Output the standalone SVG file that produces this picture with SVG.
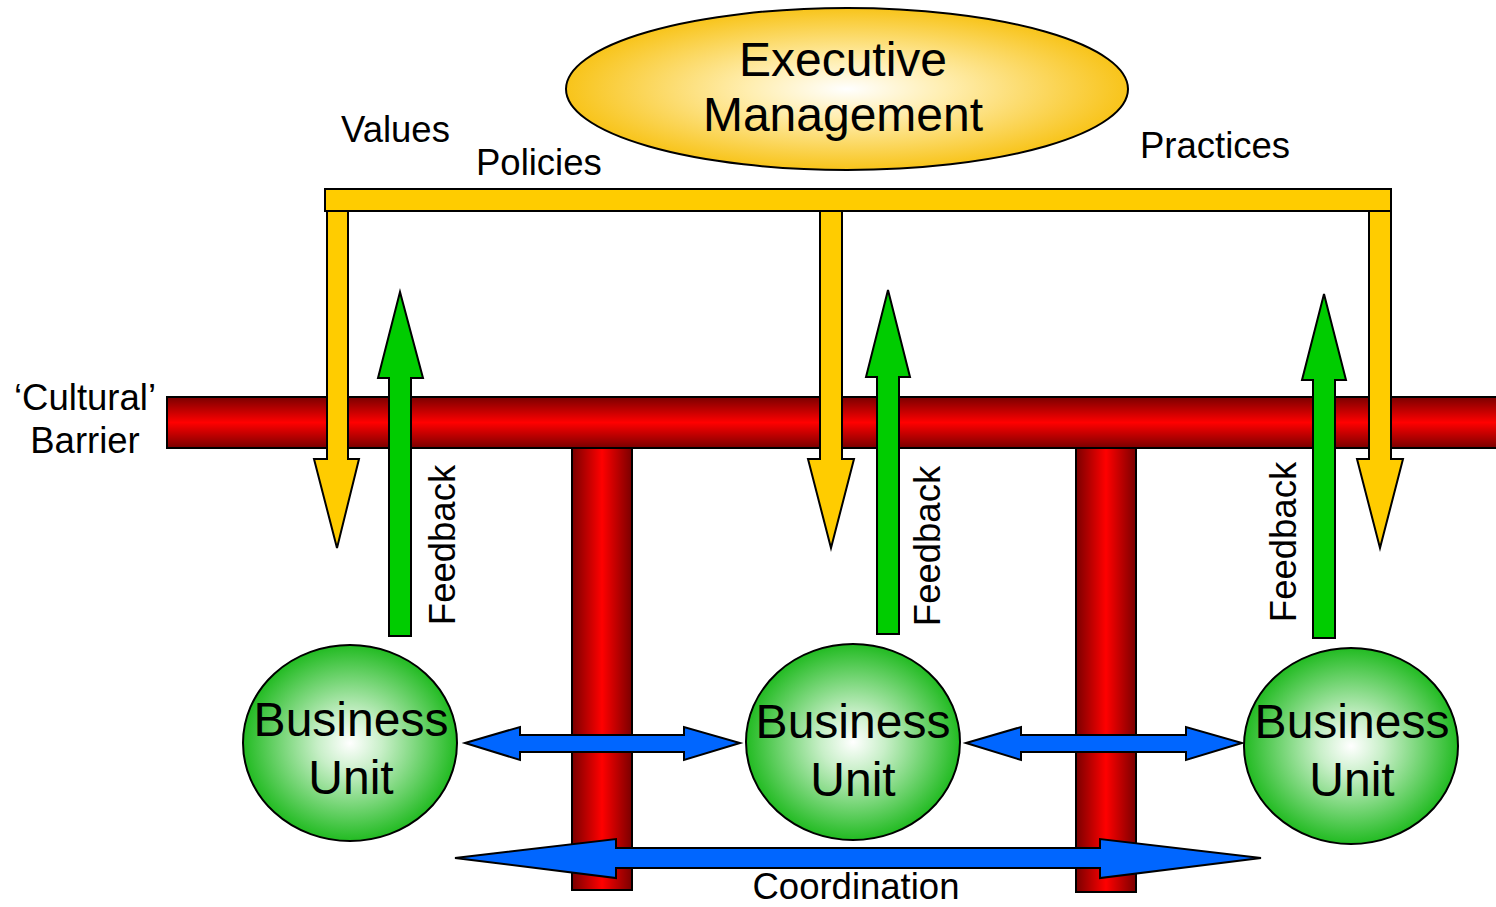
<svg xmlns="http://www.w3.org/2000/svg" width="1496" height="907" viewBox="0 0 1496 907">
  <defs>
    <radialGradient id="gradExec" cx="50%" cy="50%" r="50%">
      <stop offset="0" stop-color="#ffffff"/>
      <stop offset="0.35" stop-color="#ffeeb0"/>
      <stop offset="1" stop-color="#f8c41a"/>
    </radialGradient>
    <radialGradient id="gradUnit" cx="50%" cy="50%" r="50%">
      <stop offset="0" stop-color="#ffffff"/>
      <stop offset="0.3" stop-color="#c8efc8"/>
      <stop offset="1" stop-color="#22bb22"/>
    </radialGradient>
    <linearGradient id="gradBarrier" x1="0" y1="0" x2="0" y2="1">
      <stop offset="0" stop-color="#7a0000"/>
      <stop offset="0.5" stop-color="#ff0000"/>
      <stop offset="1" stop-color="#7a0000"/>
    </linearGradient>
    <linearGradient id="gradPillar" x1="0" y1="0" x2="1" y2="0">
      <stop offset="0" stop-color="#7a0000"/>
      <stop offset="0.5" stop-color="#ff0000"/>
      <stop offset="1" stop-color="#7a0000"/>
    </linearGradient>
  </defs>
  <style>
    text { font-family: "Liberation Sans", Arial, sans-serif; fill: #000; }
    .lbl { font-size: 36.5px; }
    .big { font-size: 48px; text-anchor: middle; }
    .fb { font-size: 36.5px; text-anchor: middle; }
    .yellow { fill: #ffcc00; stroke: #000; stroke-width: 2; stroke-linejoin: miter; }
    .green { fill: #00cc00; stroke: #000; stroke-width: 2; }
    .blue { fill: #0066ff; stroke: #000; stroke-width: 2; }
    .red { stroke: #000; stroke-width: 2; }
  </style>

  <!-- cultural barrier: horizontal beam and two supporting pillars -->
  <g id="barrier">
    <rect class="red" x="167" y="397" width="1340" height="51" fill="url(#gradBarrier)"/>
    <rect class="red" x="572" y="448" width="60" height="442" fill="url(#gradPillar)"/>
    <rect class="red" x="1076" y="448" width="60" height="444" fill="url(#gradPillar)"/>
  </g>

  <g id="executive">
    <ellipse cx="847" cy="89" rx="281" ry="81" fill="url(#gradExec)" stroke="#000" stroke-width="2"/>
    <text class="big" x="843" y="76">Executive</text>
    <text class="big" x="843" y="131">Management</text>
  </g>

  <g id="connectors">
    <!-- downward flow of values, policies and practices -->
    <polygon class="yellow" points="327,211 348,211 348,459 359,459 337,548 314,459 327,459"/>
    <polygon class="yellow" points="820,211 842,211 842,459 854,459 831,548 808,459 820,459"/>
    <polygon class="yellow" points="1369,211 1391,211 1391,459 1403,459 1380,548 1357,459 1369,459"/>
    <rect class="yellow" x="325" y="189" width="1066" height="22"/>

    <!-- feedback arrows -->
    <polygon class="green" points="389,636 411,636 411,378 423,378 400,292 378,378 389,378"/>
    <polygon class="green" points="877,634 899,634 899,377 910,377 888,290 866,377 877,377"/>
    <polygon class="green" points="1313,638 1335,638 1335,380 1346,380 1324,294 1302,380 1313,380"/>

    <!-- coordination between units -->
    <polygon class="blue" points="465,743 520,727 520,735 684,735 684,727 740,743 684,760 684,752 520,752 520,760"/>
    <polygon class="blue" points="966,743 1021,727 1021,735 1186,735 1186,727 1242,743 1186,760 1186,752 1021,752 1021,760"/>
    <polygon class="blue" points="455,858 616,839 616,848 1100,848 1100,839 1261,858 1100,878 1100,868 616,868 616,878"/>
  </g>

  <g id="unit-1">
    <ellipse cx="350" cy="743" rx="107" ry="98" fill="url(#gradUnit)" stroke="#000" stroke-width="2"/>
    <text class="big" x="351" y="736">Business</text>
    <text class="big" x="351" y="794">Unit</text>
  </g>
  <g id="unit-2">
    <ellipse cx="853" cy="742" rx="107" ry="98" fill="url(#gradUnit)" stroke="#000" stroke-width="2"/>
    <text class="big" x="853" y="738">Business</text>
    <text class="big" x="853" y="796">Unit</text>
  </g>
  <g id="unit-3">
    <ellipse cx="1351" cy="746" rx="107" ry="98" fill="url(#gradUnit)" stroke="#000" stroke-width="2"/>
    <text class="big" x="1352" y="738">Business</text>
    <text class="big" x="1352" y="796">Unit</text>
  </g>

  <g id="labels">
    <text class="lbl" x="341" y="142">Values</text>
    <text class="lbl" x="476" y="175">Policies</text>
    <text class="lbl" x="1140" y="158">Practices</text>
    <text class="lbl" x="85" y="410" text-anchor="middle">‘Cultural’</text>
    <text class="lbl" x="85" y="453" text-anchor="middle">Barrier</text>
    <text class="fb" transform="translate(455,545) rotate(-90)">Feedback</text>
    <text class="fb" transform="translate(940,546) rotate(-90)">Feedback</text>
    <text class="fb" transform="translate(1296,542) rotate(-90)">Feedback</text>
    <text class="lbl" x="856" y="899" text-anchor="middle">Coordination</text>
  </g>
</svg>
